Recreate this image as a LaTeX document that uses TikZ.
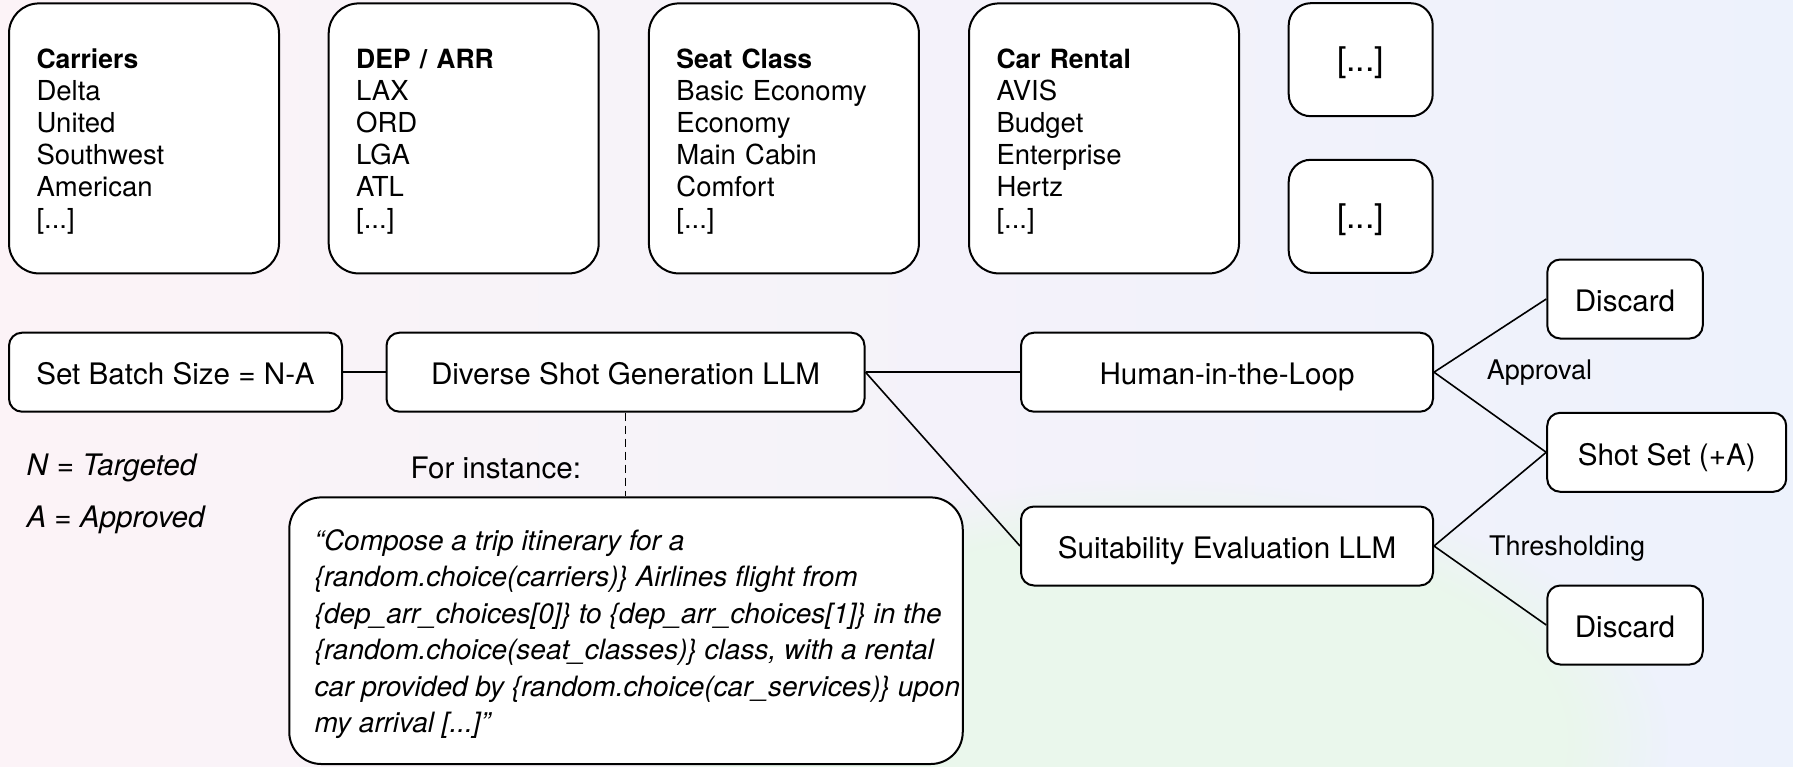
\documentclass[tikz,border=0pt]{standalone}
\usepackage{fontspec}
\setmainfont{TeX Gyre Heros}
\usetikzlibrary{fadings}

\definecolor{bgpink}{RGB}{252,243,247}
\definecolor{bgblue}{RGB}{237,242,252}
\definecolor{bggreen}{RGB}{234,247,236}

% heading line of an option list
\newcommand{\listhead}[1]{\rule{0pt}{27pt}{\fontsize{26.5}{32}\selectfont\bfseries #1}}

\begin{document}
\begin{tikzpicture}[x=1pt,y=-1pt,
  every node/.style={font=\fontsize{29.6}{32}\selectfont, inner sep=0pt},
  listbox/.style={draw, line width=2pt, fill=white, rounded corners=30pt,
    minimum width=270pt, minimum height=270pt, text width=215pt,
    inner xsep=27.5pt, align=left, font=\fontsize{27.5}{32}\selectfont},
  morebox/.style={draw, line width=2pt, fill=white, rounded corners=22pt,
    minimum width=144pt, minimum height=113pt, text height=30pt, text depth=6pt,
    font=\fontsize{34}{40}\selectfont},
  stagebox/.style={draw, line width=2pt, fill=white, rounded corners=13pt,
    minimum height=79pt, text height=31.4pt, text depth=6pt},
  quotebox/.style={draw, line width=2pt, fill=white, rounded corners=32pt,
    minimum width=673.5pt, minimum height=266.6pt},
  quotetext/.style={align=left, font=\fontsize{28}{36.5}\selectfont\itshape},
  note/.style={anchor=west},
  label/.style={anchor=west, font=\fontsize{27}{32}\selectfont},
  link/.style={line width=1.6pt},
]
% background wash
\useasboundingbox (0,0) rectangle (1793,766);
\shade[left color=bgpink, right color=bgblue] (0,0) rectangle (1793,766);
\fill[bggreen, path fading=circle with fuzzy edge 20 percent]
  (1150,740) ellipse (520 and 260);

% option lists
\node[listbox] (carriers) at (144,138.4)
  {\listhead{Carriers}\\Delta\\United\\Southwest\\American\\{}[...]};
\node[listbox] (deparr) at (463.7,138.4)
  {\listhead{DEP / ARR}\\LAX\\ORD\\LGA\\ATL\\{}[...]};
\node[listbox] (seat) at (783.9,138.4)
  {\listhead{Seat Class}\\Basic Economy\\Economy\\Main Cabin\\Comfort\\{}[...]};
\node[listbox] (car) at (1104,138.4)
  {\listhead{Car Rental}\\AVIS\\Budget\\Enterprise\\Hertz\\{}[...]};
\node[morebox] (moreA) at (1360.7,59.7) {[...]};
\node[morebox] (moreB) at (1360.7,216.3) {[...]};

% pipeline stages
\node[stagebox, minimum width=333pt] (batch) at (175.5,372.2) {Set Batch Size = N-A};
\node[stagebox, minimum width=478pt] (diverse) at (625.5,372.2) {Diverse Shot Generation LLM};
\node[stagebox, minimum width=412pt] (human) at (1227,372.2) {Human-in-the-Loop};
\node[stagebox, minimum width=412pt] (suit) at (1227,546) {Suitability Evaluation LLM};
\node[stagebox, minimum width=155.5pt] (discA) at (1625,299) {Discard};
\node[stagebox, minimum width=239pt] (shotset) at (1666.7,452.3) {Shot Set (+A)};
\node[stagebox, minimum width=155.5pt] (discB) at (1625,625) {Discard};

% example prompt
\node[quotebox] (quote) at (626,630.7) {};
\node[quotetext, anchor=west] (quotetxt) at (314.5,634.2)
  {“Compose a trip itinerary for a\\
   \{random.choice(carriers)\} Airlines flight from\\
   \{dep\_arr\_choices[0]\} to \{dep\_arr\_choices[1]\} in the\\
   \{random.choice(seat\_classes)\} class, with a rental\\
   car provided by \{random.choice(car\_services)\} upon\\
   my arrival [...]”};

% legend and labels
\node[note] (legN) at (26.3,468) {\textit{N} = \textit{Targeted}};
\node[note] (legA) at (26.3,520) {\textit{A} = \textit{Approved}};
\node[note] (forinst) at (410.5,467.5) {For instance:};
\node[label] (approval) at (1486.6,373) {Approval};
\node[label] (thresh) at (1489,549) {Thresholding};

% connectors
\draw[link] (batch.east) -- (diverse.west);
\draw[link] (diverse.east) -- (human.west);
\draw[link] (diverse.east) -- (suit.west);
\draw[link] (human.east) -- (discA.west);
\draw[link] (human.east) -- (shotset.west);
\draw[link] (suit.east) -- (shotset.west);
\draw[link] (suit.east) -- (discB.west);
\draw[link, dash pattern=on 8pt off 5pt] (diverse.south) -- (diverse.south |- quote.north);
\end{tikzpicture}
\end{document}
